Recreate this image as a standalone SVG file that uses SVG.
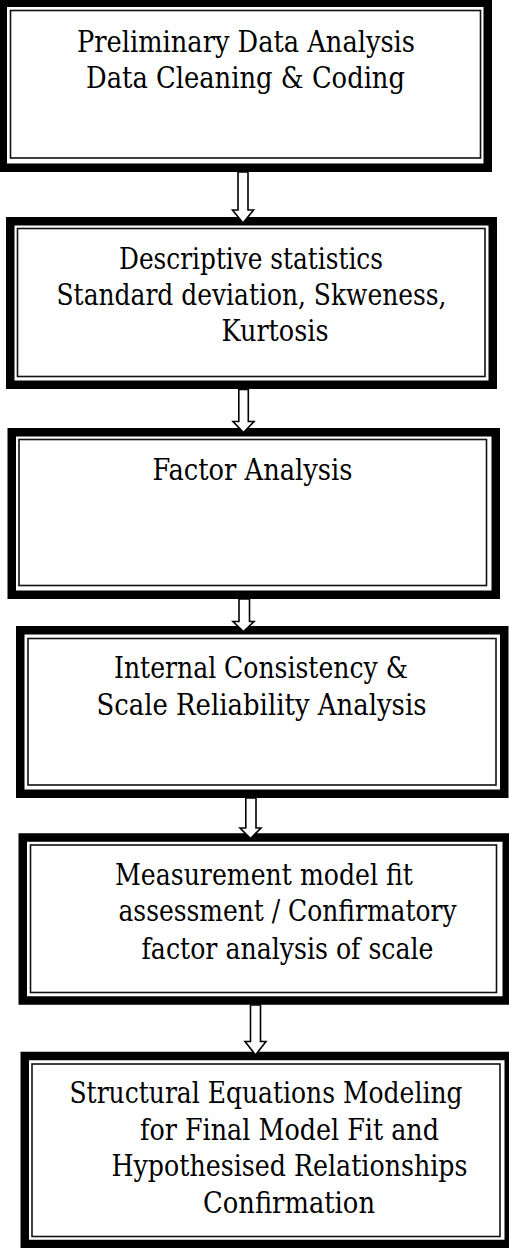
<svg xmlns="http://www.w3.org/2000/svg" width="509" height="1248" viewBox="0 0 509 1248">
  <style>
    .frame { fill: #fff; stroke: #000; stroke-width: 8.5; }
    .rule { fill: none; stroke: #111; stroke-width: 1.6; }
    .label { font-family: "DejaVu Serif Condensed", "DejaVu Serif", serif; font-stretch: condensed; font-size: 29px; fill: #000; text-anchor: middle; }
    .arrow { fill: #fff; stroke: #000; stroke-width: 1.6; stroke-linejoin: miter; }
  </style>
  <rect width="509" height="1248" fill="#fff"/>

  <!-- Step 1 -->
  <g id="step-preliminary">
    <rect class="frame" x="2.75" y="2.75" width="485" height="165"/>
    <rect class="rule" x="10.5" y="10.5" width="470" height="147.5"/>
    <text class="label" transform="translate(246 0) scale(0.9 1)" x="0" y="52" textLength="375.6" lengthAdjust="spacingAndGlyphs">Preliminary Data Analysis</text>
    <text class="label" transform="translate(245.5 0) scale(0.9 1)" x="0" y="88" textLength="354.4" lengthAdjust="spacingAndGlyphs">Data Cleaning &amp; Coding</text>
  </g>

  <!-- Step 2 -->
  <g id="step-descriptive">
    <rect class="frame" x="10.25" y="221.25" width="482.5" height="163.5"/>
    <rect class="rule" x="17.5" y="228.5" width="467.5" height="148"/>
    <text class="label" transform="translate(251 0) scale(0.9 1)" x="0" y="269" textLength="293.3" lengthAdjust="spacingAndGlyphs">Descriptive statistics</text>
    <text class="label" transform="translate(251.5 0) scale(0.9 1)" x="0" y="305" textLength="433.3" lengthAdjust="spacingAndGlyphs">Standard deviation, Skweness,</text>
    <text class="label" transform="translate(275 0) scale(0.9 1)" x="0" y="341.5" textLength="118.9" lengthAdjust="spacingAndGlyphs">Kurtosis</text>
  </g>

  <!-- Step 3 -->
  <g id="step-factor">
    <rect class="frame" x="11.75" y="432.25" width="484" height="162.5"/>
    <rect class="rule" x="19" y="439.5" width="467.5" height="146"/>
    <text class="label" transform="translate(252.5 0) scale(0.9 1)" x="0" y="480" textLength="222.2" lengthAdjust="spacingAndGlyphs">Factor Analysis</text>
  </g>

  <!-- Step 4 -->
  <g id="step-reliability">
    <rect class="frame" x="20.25" y="630.25" width="484" height="163.5"/>
    <rect class="rule" x="28" y="638.5" width="468" height="146.5"/>
    <text class="label" transform="translate(261 0) scale(0.9 1)" x="0" y="678" textLength="326.7" lengthAdjust="spacingAndGlyphs">Internal Consistency &amp;</text>
    <text class="label" transform="translate(261.5 0) scale(0.9 1)" x="0" y="715" textLength="366.7" lengthAdjust="spacingAndGlyphs">Scale Reliability Analysis</text>
  </g>

  <!-- Step 5 -->
  <g id="step-measurement">
    <rect class="frame" x="22.75" y="837.5" width="484" height="163"/>
    <rect class="rule" x="30.5" y="845" width="466" height="147.5"/>
    <text class="label" transform="translate(264 0) scale(0.9 1)" x="0" y="885" textLength="331.1" lengthAdjust="spacingAndGlyphs">Measurement model fit</text>
    <text class="label" transform="translate(287.5 0) scale(0.9 1)" x="0" y="921.5" textLength="375.6" lengthAdjust="spacingAndGlyphs">assessment / Confirmatory</text>
    <text class="label" transform="translate(287.5 0) scale(0.9 1)" x="0" y="959" textLength="324.4" lengthAdjust="spacingAndGlyphs">factor analysis of scale</text>
  </g>

  <!-- Step 6 -->
  <g id="step-sem">
    <rect class="frame" x="24.75" y="1056" width="484" height="188"/>
    <rect class="rule" x="32" y="1064" width="468" height="172.5"/>
    <text class="label" transform="translate(266 0) scale(0.9 1)" x="0" y="1103" textLength="436.7" lengthAdjust="spacingAndGlyphs">Structural Equations Modeling</text>
    <text class="label" transform="translate(289.5 0) scale(0.9 1)" x="0" y="1140" textLength="332.2" lengthAdjust="spacingAndGlyphs">for Final Model Fit and</text>
    <text class="label" transform="translate(289.5 0) scale(0.9 1)" x="0" y="1176.5" textLength="395.6" lengthAdjust="spacingAndGlyphs">Hypothesised Relationships</text>
    <text class="label" transform="translate(289 0) scale(0.9 1)" x="0" y="1213" textLength="191.1" lengthAdjust="spacingAndGlyphs">Confirmation</text>
  </g>

  <!-- Block arrows between steps -->
  <g id="connectors">
    <path class="arrow" d="M238,172 V210 H232.5 L243,223 L253.5,210 H248 V172 Z"/>
    <path class="arrow" d="M238.8,389.5 V421.5 H233 L243.5,432.5 L254,421.5 H248.3 V389.5 Z"/>
    <path class="arrow" d="M239,599 V621.5 H233 L243.5,631.5 L254,621.5 H249.5 V599 Z"/>
    <path class="arrow" d="M245.8,798 V828 H240 L250.5,838.5 L261,828 H256 V798 Z"/>
    <path class="arrow" d="M250.5,1005 V1041.5 H245 L255.5,1055 L266,1041.5 H260.5 V1005 Z"/>
  </g>
</svg>
